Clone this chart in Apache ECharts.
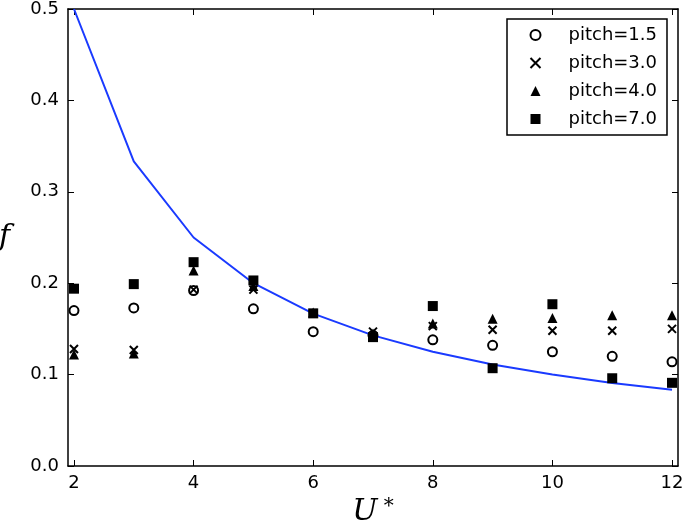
<!DOCTYPE html>
<html>
<head>
<meta charset="utf-8">
<script src="https://cdn.jsdelivr.net/npm/echarts@6/dist/echarts.min.js"></script>
<style>html,body{margin:0;padding:0;background:#fff}#c{width:685px;height:524px}</style>
</head>
<body>
<div id="c"></div>
<script>
var uValues = [2, 3, 4, 5, 6, 7, 8, 9, 10, 11, 12];
var pitch15 = [0.170, 0.173, 0.192, 0.172, 0.147, 0.143, 0.138, 0.132, 0.125, 0.120, 0.114];
var pitch30 = [0.128, 0.127, 0.193, 0.193, 0.167, 0.147, 0.153, 0.149, 0.148, 0.148, 0.150];
var pitch40 = [0.122, 0.123, 0.214, 0.197, 0.168, 0.145, 0.156, 0.161, 0.162, 0.165, 0.165];
var pitch70 = [0.194, 0.199, 0.223, 0.203, 0.167, 0.141, 0.175, 0.107, 0.177, 0.096, 0.091];
var curveValues = [0.5, 0.3333, 0.25, 0.2, 0.1667, 0.1429, 0.125, 0.1111, 0.1, 0.0909, 0.0833];
var xTicks = [2, 4, 6, 8, 10, 12];
var seriesNames = ['pitch=1.5', 'pitch=3.0', 'pitch=4.0', 'pitch=7.0'];

function pairs(ys) { return uValues.map(function (u, i) { return [u, ys[i]]; }); }

var chart = echarts.init(document.getElementById('c'), null, {renderer: 'canvas'});
var font = 'DejaVu Sans';
var axisLineStyle = {color: '#000', width: 1.5};
var xBase = {
  type: 'value', min: 1.9, max: 12.1,
  axisLine: {show: true, onZero: false, lineStyle: axisLineStyle},
  splitLine: {show: false}
};
var yBase = {
  type: 'value', min: 0, max: 0.5, interval: 0.1,
  axisLine: {show: true, onZero: false, lineStyle: axisLineStyle},
  splitLine: {show: false}
};
var option = {
  animation: false,
  backgroundColor: '#fff',
  grid: {left: 68, right: 7, top: 9, bottom: 58, containLabel: false, outerBoundsMode: 'none'},
  xAxis: [
    Object.assign({}, xBase, {
      position: 'bottom',
      axisTick: {show: true, inside: true, length: 6, lineStyle: {color: '#000', width: 1}, customValues: xTicks},
      axisLabel: {show: true, margin: 8, color: '#000', fontFamily: font, fontSize: 18, customValues: xTicks, formatter: function (v) { return String(v); }},
      name: '{u|U}{s|*}', nameLocation: 'middle', nameGap: 31,
      nameTextStyle: {rich: {
        u: {fontFamily: 'DejaVu Serif', fontStyle: 'italic', fontSize: 30, color: '#000'},
        s: {fontFamily: 'DejaVu Serif', fontSize: 20, color: '#000', verticalAlign: 'top', padding: [0, 0, 8, 6]}
      }}
    }),
    Object.assign({}, xBase, {
      position: 'top',
      axisTick: {show: true, inside: true, length: 6, lineStyle: {color: '#000', width: 1}, customValues: xTicks},
      axisLabel: {show: false}
    })
  ],
  yAxis: [
    Object.assign({}, yBase, {
      position: 'left',
      axisTick: {show: true, inside: true, length: 6, lineStyle: {color: '#000', width: 1}},
      axisLabel: {show: true, margin: 9, color: '#000', fontFamily: font, fontSize: 18, formatter: function (v) { return v.toFixed(1); }},
      name: 'f', nameLocation: 'middle', nameGap: 58, nameRotate: 0,
      nameTextStyle: {fontFamily: 'DejaVu Serif', fontStyle: 'italic', fontSize: 30, color: '#000'}
    }),
    Object.assign({}, yBase, {
      position: 'right',
      axisTick: {show: true, inside: true, length: 6, lineStyle: {color: '#000', width: 1}},
      axisLabel: {show: false}
    })
  ],
  legend: {
    data: seriesNames,
    orient: 'vertical',
    left: 507, top: 19,
    padding: [7, 10, 7, 21],
    itemGap: 10,
    itemWidth: 10, itemHeight: 10,
    borderColor: '#000', borderWidth: 1.5, backgroundColor: '#fff',
    textStyle: {fontFamily: font, fontSize: 18, color: '#000', padding: [0, 0, 0, 23]}
  },
  series: [
    {
      type: 'line', name: 'curve', data: pairs(curveValues), showSymbol: false, symbol: 'none',
      lineStyle: {color: '#1a3aff', width: 2}, z: 1
    },
    {
      type: 'scatter', name: seriesNames[0], data: pairs(pitch15), symbol: 'emptyCircle', symbolSize: 9,
      itemStyle: {color: '#000', borderColor: '#000', borderWidth: 1.6, opacity: 1}, z: 3
    },
    {
      type: 'scatter', name: seriesNames[1], data: pairs(pitch30), symbol: 'path://M0,0L10,10M10,0L0,10', symbolSize: 8,
      itemStyle: {color: 'none', borderColor: '#000', borderWidth: 2, opacity: 1}, z: 3
    },
    {
      type: 'scatter', name: seriesNames[2], data: pairs(pitch40), symbol: 'triangle', symbolSize: 10,
      itemStyle: {color: '#000', opacity: 1}, z: 3
    },
    {
      type: 'scatter', name: seriesNames[3], data: pairs(pitch70), symbol: 'rect', symbolSize: 10,
      itemStyle: {color: '#000', opacity: 1}, z: 3
    }
  ]
};
chart.setOption(option);
</script>
</body>
</html>
